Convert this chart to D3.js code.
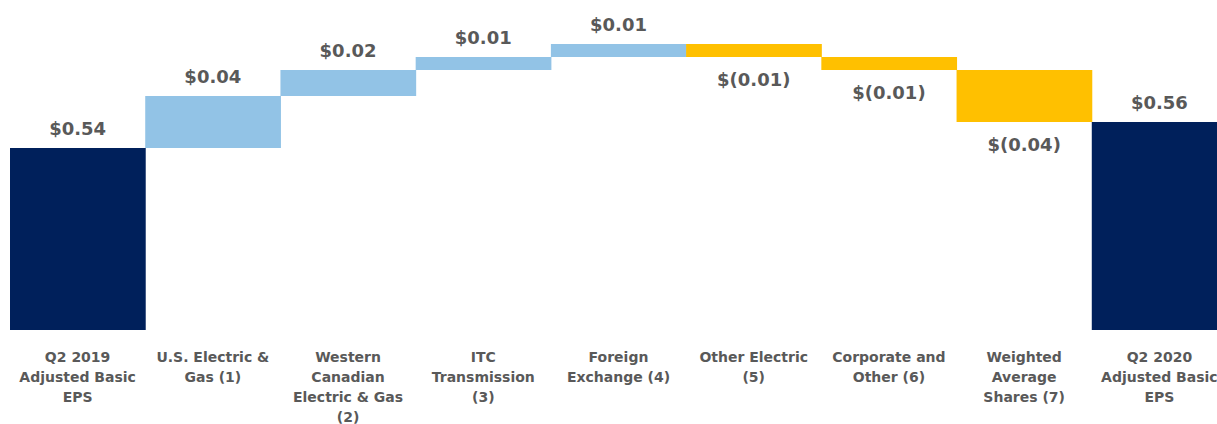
<!DOCTYPE html>
<html>
<head>
<meta charset="utf-8">
<script src="https://cdn.jsdelivr.net/npm/d3@7"></script>
<style>
    body { margin: 0; background: #fff; overflow: hidden; }
    text { font-family: "DejaVu Sans", Verdana, sans-serif; font-weight: bold; fill: #595959; }
</style>
</head>
<body>
<div id="chart"></div>
<script>
// category labels, already split into lines
const categories = [
    ["Q2 2019", "Adjusted Basic", "EPS"],
    ["U.S. Electric &", "Gas (1)"],
    ["Western", "Canadian", "Electric & Gas", "(2)"],
    ["ITC", "Transmission", "(3)"],
    ["Foreign", "Exchange (4)"],
    ["Other Electric", "(5)"],
    ["Corporate and", "Other (6)"],
    ["Weighted", "Average", "Shares (7)"],
    ["Q2 2020", "Adjusted Basic", "EPS"]
];
// kind: total or change
const kinds = ["total", "change", "change", "change", "change", "change", "change", "change", "total"];
const values = [0.54, 0.04, 0.02, 0.01, 0.01, -0.01, -0.01, -0.04, 0.56];
const valueLabels = ["$0.54", "$0.04", "$0.02", "$0.01", "$0.01", "$(0.01)", "$(0.01)", "$(0.04)", "$0.56"];
const yDomain = [0.40, 0.62];

const width = 1217, height = 424;
const colors = { total: "#00205B", up: "#92C3E6", down: "#FFC000" };

// build waterfall steps
let running = 0;
const steps = values.map((v, i) => {
    let start, end;
    if (kinds[i] === "total") {
        start = yDomain[0];
        end = v;
        running = v;
    } else {
        start = running;
        end = running + v;
        running = end;
    }
    return { i: i, value: v, start: start, end: end, kind: kinds[i], label: valueLabels[i], lines: categories[i] };
});

const svg = d3.select("#chart").append("svg")
    .attr("width", width)
    .attr("height", height);

const x = d3.scaleBand()
    .domain(d3.range(categories.length))
    .range([10, 1227])
    .padding(0);

const y = d3.scaleLinear()
    .domain(yDomain)
    .range([330, 44]);

function barColor(d) {
    if (d.kind === "total") return colors.total;
    return d.value >= 0 ? colors.up : colors.down;
}

svg.selectAll("rect.bar")
    .data(steps)
    .enter()
    .append("rect")
    .attr("class", "bar")
    .attr("x", d => x(d.i))
    .attr("width", x.bandwidth() + 0.5)
    .attr("y", d => y(Math.max(d.start, d.end)))
    .attr("height", d => Math.abs(y(d.start) - y(d.end)))
    .style("fill", barColor);

// value labels: above for positives, below for negatives
svg.selectAll("text.value")
    .data(steps)
    .enter()
    .append("text")
    .attr("class", "value")
    .attr("x", d => x(d.i) + x.bandwidth() / 2)
    .attr("y", d => d.value >= 0 ? y(Math.max(d.start, d.end)) - 13 : y(Math.min(d.start, d.end)) + 29)
    .attr("text-anchor", "middle")
    .style("font-size", "18px")
    .text(d => d.label);

// category labels
const cats = svg.selectAll("text.cat")
    .data(steps)
    .enter()
    .append("text")
    .attr("class", "cat")
    .attr("text-anchor", "middle")
    .style("font-size", "14px");

cats.selectAll("tspan")
    .data(d => d.lines.map(l => ({ line: l, i: d.i })))
    .enter()
    .append("tspan")
    .attr("x", d => x(d.i) + x.bandwidth() / 2)
    .attr("y", (d, j) => 362 + j * 20)
    .text(d => d.line);
</script>
</body>
</html>
